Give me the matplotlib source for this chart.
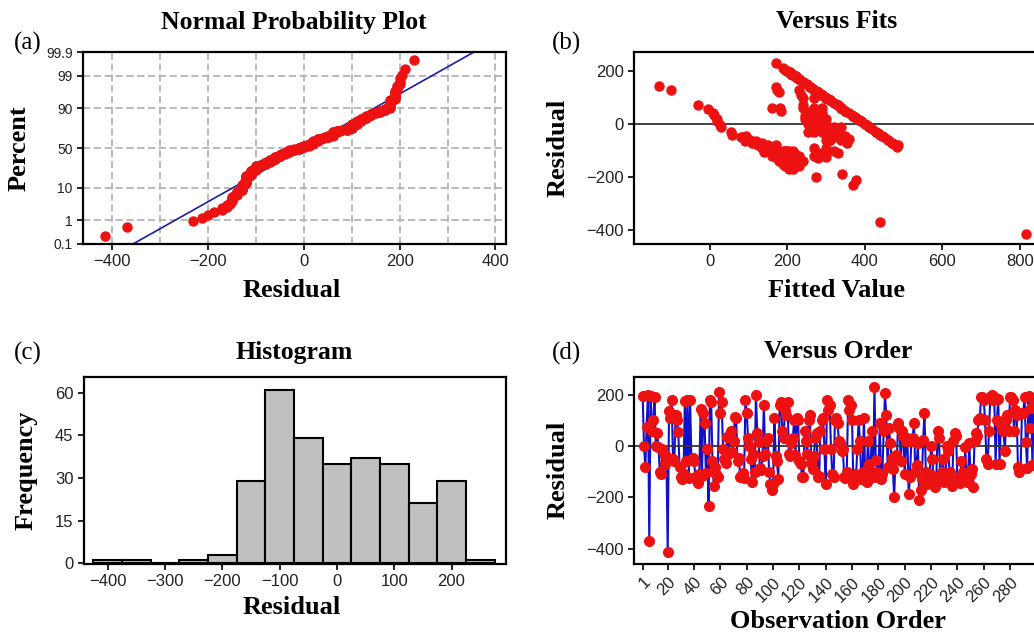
import matplotlib
matplotlib.use("Agg")
import matplotlib.pyplot as plt
import numpy as np
from statistics import NormalDist

# ---------------- data ----------------
residuals = [
    195, 0, -80, 75, 200, -370, 195, 60, 100, 190,
    0, 50, -5, -100, -110, -10, -30, -70, -40, -415,
    135, 110, 180, -50, -60, 120, 100, 55, -80, -120,
    -130, -110, 175, -60, 180, -125, 180, -55, -45, -60,
    -120, -130, -145, -110, 145, -115, 130, 90, -105, -10,
    -232, 180, 170, -60, -155, -80, -110, -120, 212, 130,
    170, -10, -50, -65, 35, -30, 45, 60, -25, 20,
    115, 110, -60, -45, -120, -115, -105, -125, 180, 130,
    30, 0, -50, -140, -30, -100, 200, 50, 15, -85,
    -95, -40, 160, -30, 20, 30, -100, -150, -170, -150,
    110, -40, -60, -130, 160, 170, 60, 30, 140, 120,
    170, -30, -40, 10, 30, 100, -35, 110, 100, -60,
    -70, -120, -120, 60, 20, -30, 100, 120, -65, -90,
    -40, 30, 50, -120, -115, 60, 100, 110, -10, -150,
    180, 140, 160, -10, -110, -120, 100, 110, 90, 20,
    10, -20, -10, -120, -125, -100, 180, 140, 160, 100,
    -150, -110, -120, -10, 100, 20, -130, -100, 110, -120,
    -140, 20, -70, -110, 60, -120, 230, -55, -100, -120,
    90, -130, -110, 60, 205, 120, -80, 70, 10, -45,
    -90, -200, -35, -50, 90, 70, -60, 60, 40, -110,
    20, 30, -188, -120, 20, 30, 90, -100, -75, 10,
    -212, -170, -130, 25, 130, -100, -150, -130, -110, 0,
    -50, -140, -160, -120, 60, 30, -130, -100, -50, -140,
    -110, 0, -20, -100, -130, -155, 20, 50, 40, -135,
    -120, -145, -60, -100, -125, -5, -140, -130, 10, -110,
    -90, -160, 20, 50, 40, 100, 110, 190, 190, 180,
    100, -50, -70, 60, 190, 200, 180, 190, -70, 100,
    185, -70, 80, 70, 60, -20, 100, 120, 60, 190,
    190, 180, 60, 140, 120, -80, -100, -90, 130, 130,
    190, 15, -85, 195, 70, 150, -75, 180,
]
fitted = [
    205, 300, 150, 325, 200, 440, 207, 240, 300, 210,
    400, 270, 28, 190, 200, 320, 430, 110, 330, 815,
    265, 290, 220, 80, 340, 280, 270, -3, 170, 215,
    205, 185, 225, 460, 220, 230, 222, 360, 95, 100,
    170, 190, 200, 160, -130, 210, 270, 310, 140, 280,
    370, 220, 230, 300, 215, 480, 200, 180, 188, 270,
    230, 410, 350, 120, 12, 270, 255, 340, 310, 20,
    285, 235, 105, 445, 195, 220, 275, 185, 220, 270,
    370, 260, 85, 215, 290, 160, 200, 350, 290, 145,
    155, 58, 240, 430, 380, 250, 175, 200, 205, 225,
    290, 320, 310, 180, 240, 230, 270, 245, 260, 280,
    230, 55, 320, 390, 370, 300, 300, 290, 300, 460,
    115, 200, 270, 160, 380, 255, 300, 180, 90, 150,
    440, 370, 183, 190, 175, 340, 300, 290, 340, 190,
    220, 260, 240, 30, 205, 210, 240, 290, 310, 275,
    390, 300, 410, 220, 300, 180, 220, 170, 240, 300,
    210, 170, 185, 260, 300, 245, 195, 320, 290, 230,
    180, 380, 470, 215, 340, 160, 170, 340, 200, 205,
    310, 220, 290, 340, 195, 280, 125, 240, 20, 350,
    135, 275, 435, 330, 310, 330, 355, 340, 10, 175,
    380, 370, 342, 180, 380, 260, 310, 300, 125, 390,
    378, 215, 200, 375, 230, 165, 225, 175, 195, 255,
    345, 210, 195, 285, 340, 370, 215, 205, 450, 225,
    180, 400, 290, 195, 280, 200, 380, 350, 290, 205,
    165, 190, 310, 215, 175, 405, 240, 185, 250, 330,
    270, 230, 300, 350, 360, 300, 290, 210, 212, 220,
    300, 320, 355, 340, 210, 200, 220, 210, 470, 300,
    215, 135, 320, 330, 182, 420, 300, 280, 290, 210,
    210, 220, 340, 260, 280, 485, 195, 300, -100, 175,
    210, 385, 483, 205, -30, 250, 475, 220,
]
hist_centers = [-400, -350, -300, -250, -200, -150, -100, -50, 0, 50, 100, 150, 200, 250]
hist_counts = [1, 1, 0, 1, 3, 29, 61, 44, 35, 37, 35, 21, 29, 1]
prob_ticks = [0.1, 1, 10, 50, 90, 99, 99.9]
prob_tick_labels = ["0.1", "1", "10", "50", "90", "99", "99.9"]
order_ticks = [1, 20, 40, 60, 80, 100, 120, 140, 160, 180, 200, 220, 240, 260, 280]

# ---------------- style ----------------
RED = "#ee1111"
BLUE = "#1010c8"
SANS = ["Liberation Sans", "DejaVu Sans"]
SERIF = ["Liberation Serif", "DejaVu Serif"]
plt.rcParams["font.family"] = SANS

W, H = 1034, 635
fig = plt.figure(figsize=(W / 100, H / 100), dpi=100)


def ax_at(l, t, r, b):
    return fig.add_axes([l / W, 1 - b / H, (r - l) / W, (b - t) / H])


def ftext(x, y, s, **kw):
    fig.text(x / W, 1 - y / H, s, **kw)


def style(ax, ysize=12):
    for s in ax.spines.values():
        s.set_linewidth(1.6)
        s.set_color("black")
    ax.tick_params(direction="out", length=4, width=1.2, colors="black",
                   labelcolor="#222222", labelsize=12)
    ax.tick_params(axis="y", labelsize=ysize)


title_kw = dict(fontsize=18.5, fontweight="bold", family=SERIF, ha="center", va="center")
label_kw = dict(fontsize=19, fontweight="bold", family=SERIF, ha="center", va="center")
panel_kw = dict(fontsize=18, family=SERIF, ha="left", va="center")

nd = NormalDist()
res = np.array(residuals, dtype=float)
n = len(res)

# ---------------- (a) Normal probability plot ----------------
axA = ax_at(83, 52, 506, 244)
style(axA, ysize=10)
srt = np.sort(res)
pp = [(i - 0.3) / (n + 0.4) for i in range(1, n + 1)]
zq = np.array([nd.inv_cdf(p) for p in pp])
mu, sd = res.mean(), res.std(ddof=1)
zl = np.array([-3.6, 3.6])
axA.set_xlim(-461, 422)
axA.set_ylim(nd.inv_cdf(0.001), nd.inv_cdf(0.999))
for gx in range(-400, 401, 100):
    axA.axvline(gx, color="#b4b4b4", lw=1.3, dashes=(4, 2), zorder=0)
for p in prob_ticks[1:-1]:
    axA.axhline(nd.inv_cdf(p / 100), color="#b4b4b4", lw=1.3, dashes=(4, 2), zorder=0)
axA.plot(mu + sd * zl, zl, color="#1c1ca8", lw=1.2, zorder=2)
axA.plot(srt, zq, "o", color=RED, ms=6.5, mec=RED, zorder=3)
axA.set_xticks([-400, -200, 0, 200, 400])
axA.set_yticks([nd.inv_cdf(p / 100) for p in prob_ticks])
axA.set_yticklabels(prob_tick_labels)
ftext(294, 22, "Normal Probability Plot", **title_kw)
ftext(292, 290, "Residual", **label_kw)
ftext(19, 148, "Percent", rotation=90, **label_kw)
ftext(14, 43, "(a)", **panel_kw)

# ---------------- (b) Versus fits ----------------
axB = ax_at(634, 52, 1040, 244)
style(axB)
axB.set_xlim(-195, 852)
axB.set_ylim(-453, 272)
axB.axhline(0, color="#333333", lw=1.3, zorder=1)
axB.plot(fitted, residuals, "o", color=RED, ms=6.5, mec=RED, zorder=3)
axB.set_xticks([0, 200, 400, 600, 800])
axB.set_yticks([200, 0, -200, -400])
ftext(837, 22, "Versus Fits", **title_kw)
ftext(837, 290, "Fitted Value", **label_kw)
ftext(558, 148, "Residual", rotation=90, **label_kw)
ftext(552, 43, "(b)", **panel_kw)

# ---------------- (c) Histogram ----------------
axC = ax_at(84, 377, 506, 564)
style(axC)
axC.bar(hist_centers, hist_counts, width=50, color="#c0c0c0", edgecolor="black",
        linewidth=1.5, zorder=2)
axC.set_xlim(-441, 295)
axC.set_ylim(-0.3, 65.5)
axC.set_xticks([-400, -300, -200, -100, 0, 100, 200])
axC.set_yticks([0, 15, 30, 45, 60])
ftext(294, 352, "Histogram", **title_kw)
ftext(292, 608, "Residual", **label_kw)
ftext(26, 470, "Frequency", rotation=90, **label_kw)
ftext(14, 353, "(c)", **panel_kw)

# ---------------- (d) Versus order ----------------
axD = ax_at(634, 377, 1043, 564)
style(axD)
obs = np.arange(1, n + 1)
axD.set_xlim(-5.6, 305)
axD.set_ylim(-460, 269)
axD.plot(obs, residuals, "-", color=BLUE, lw=1.5, zorder=2)
axD.axhline(0, color="#333333", lw=1.3, zorder=2.5)
axD.plot(obs, residuals, "o", color=RED, ms=7, mec=RED, zorder=3)
axD.set_xticks(order_ticks)
axD.set_xticklabels([str(t) for t in order_ticks], rotation=45, ha="right",
                    rotation_mode="anchor")
axD.set_yticks([200, 0, -200, -400])
ftext(838, 352, "Versus Order", **title_kw)
ftext(838, 622, "Observation Order", **label_kw)
ftext(558, 470, "Residual", rotation=90, **label_kw)
ftext(552, 353, "(d)", **panel_kw)

fig.savefig("out.png", dpi=100)
